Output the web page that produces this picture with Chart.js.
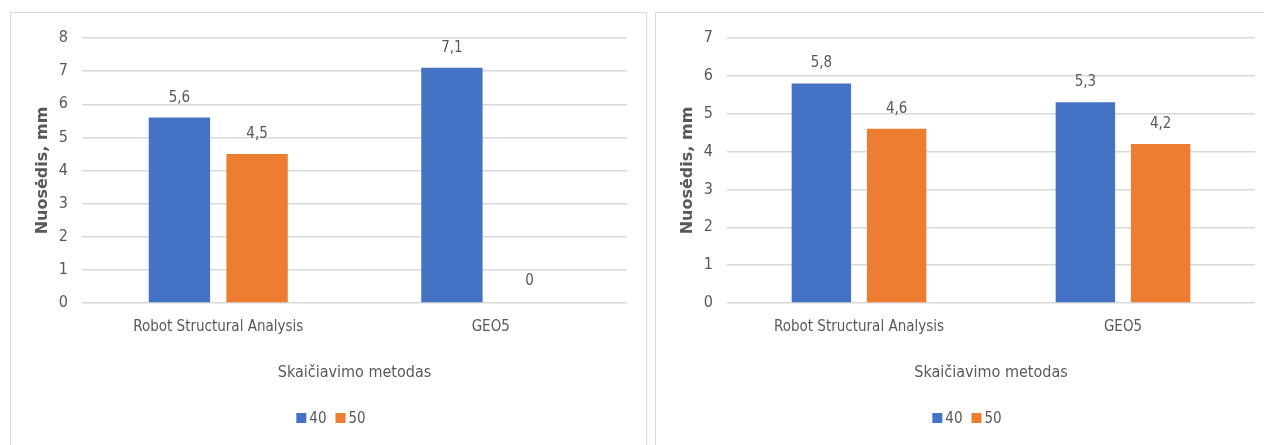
<!DOCTYPE html>
<html>
<head>
<meta charset="utf-8">
<script src="https://cdn.jsdelivr.net/npm/chart.js@4.4.1/dist/chart.umd.min.js"></script>
<style>
  html, body { margin: 0; padding: 0; background: #fff; }
  body { width: 1264px; height: 445px; overflow: hidden; position: relative; }
  .panel { position: absolute; border: 1px solid #d9d9d9; box-sizing: border-box; }
  .box { position: absolute; }
</style>
</head>
<body>
<div class="panel" style="left:10px; top:12px; width:637px; height:460px;"></div>
<div class="panel" style="left:655px; top:12px; width:640px; height:460px;"></div>
<div class="box" style="left:10px; top:12px; width:636px; height:433px;"><canvas id="chartLeft"></canvas></div>
<div class="box" style="left:655px; top:12px; width:609px; height:433px;"><canvas id="chartRight"></canvas></div>
<script>
// kategorijos ir reikšmės
const categories = ['Robot Structural Analysis', 'GEO5'];
const seriesNames = ['40', '50'];
const left40 = [5.6, 7.1];
const left50 = [4.5, 0];
const right40 = [5.8, 5.3];
const right50 = [4.6, 4.2];
const leftMax = 8;
const rightMax = 7;

const FONT = "'DejaVu Sans Condensed', 'Liberation Sans Narrow', sans-serif";
const TEXT = '#595959';
const GRID = '#d9d9d9';
const BLUE = '#4472c4';
const ORANGE = '#ed7d31';

// reikšmės virš stulpelių, su kableliu
const valueLabels = {
    id: 'valueLabels',
    afterDatasetsDraw(chart) {
        const ctx = chart.ctx;
        ctx.save();
        ctx.font = '15px ' + FONT;
        ctx.fillStyle = TEXT;
        ctx.textAlign = 'center';
        ctx.textBaseline = 'alphabetic';
        chart.data.datasets.forEach((ds, i) => {
            chart.getDatasetMeta(i).data.forEach((bar, j) => {
                const y = ds.data[j] === 0 ? bar.y - 18 : bar.y - 16;
                ctx.fillText(String(ds.data[j]).replace('.', ','), bar.x, y);
            });
        });
        ctx.restore();
    }
};

// kompaktiška legenda apačioje (kvadratėlis + tekstas)
const bottomLegend = {
    id: 'bottomLegend',
    afterDraw(chart, args, opts) {
        const ctx = chart.ctx;
        ctx.save();
        ctx.font = '15px ' + FONT;
        ctx.textBaseline = 'middle';
        ctx.textAlign = 'left';
        const box = 10, gap = 3, spacing = 9;
        const items = chart.data.datasets.map(ds => ({
            text: ds.label,
            color: ds.backgroundColor,
            w: box + gap + ctx.measureText(ds.label).width,
        }));
        const total = items.reduce((s, it) => s + it.w, 0) + spacing * (items.length - 1);
        let x = opts.centerX - total / 2;
        const y = opts.y;
        items.forEach(it => {
            ctx.fillStyle = it.color;
            ctx.fillRect(x, y - box / 2, box, box);
            ctx.fillStyle = TEXT;
            ctx.fillText(it.text, x + box + gap, y + 1);
            x += it.w + spacing;
        });
        ctx.restore();
    }
};

function createChart(canvas, a, b, yMax, rightPad, legendX) {
    return new Chart(canvas, {
        type: 'bar',
        data: {
            labels: categories,
            datasets: [
                { label: seriesNames[0], data: a, backgroundColor: BLUE },
                { label: seriesNames[1], data: b, backgroundColor: ORANGE },
            ],
        },
        options: {
            responsive: true,
            maintainAspectRatio: false,
            animation: false,
            datasets: { bar: { categoryPercentage: 0.57, barPercentage: 0.79 } },
            layout: { padding: { left: 0, top: 26, right: rightPad, bottom: 42 } },
            plugins: {
                tooltip: { enabled: false },
                legend: { display: false },
                bottomLegend: { centerX: legendX, y: 406 },
            },
            scales: {
                x: {
                    grid: { display: false, drawTicks: false },
                    border: { display: false },
                    ticks: { color: TEXT, padding: 15, font: { family: FONT, size: 15 } },
                    title: {
                        display: true,
                        text: 'Skaičiavimo metodas',
                        color: TEXT,
                        padding: { top: 0, bottom: 21 },
                        font: { family: FONT, size: 16 },
                    },
                    afterFit(scale) { scale.height = 100; },
                },
                y: {
                    min: 0,
                    max: yMax,
                    grid: { color: GRID, lineWidth: 1.5, drawTicks: false },
                    border: { display: false },
                    ticks: { stepSize: 1, color: TEXT, padding: 14, font: { family: FONT, size: 16 } },
                    title: {
                        display: true,
                        text: 'Nuosėdis, mm',
                        color: TEXT,
                        padding: { top: 23, bottom: 0 },
                        font: { family: "'DejaVu Sans', sans-serif", size: 16, weight: 'bold' },
                    },
                    afterFit(scale) { scale.width = 72; },
                },
            },
        },
        plugins: [valueLabels, bottomLegend],
    });
}

createChart(document.getElementById('chartLeft'), left40, left50, leftMax, 19, 321);
createChart(document.getElementById('chartRight'), right40, right50, rightMax, 9, 312);
</script>
</body>
</html>
